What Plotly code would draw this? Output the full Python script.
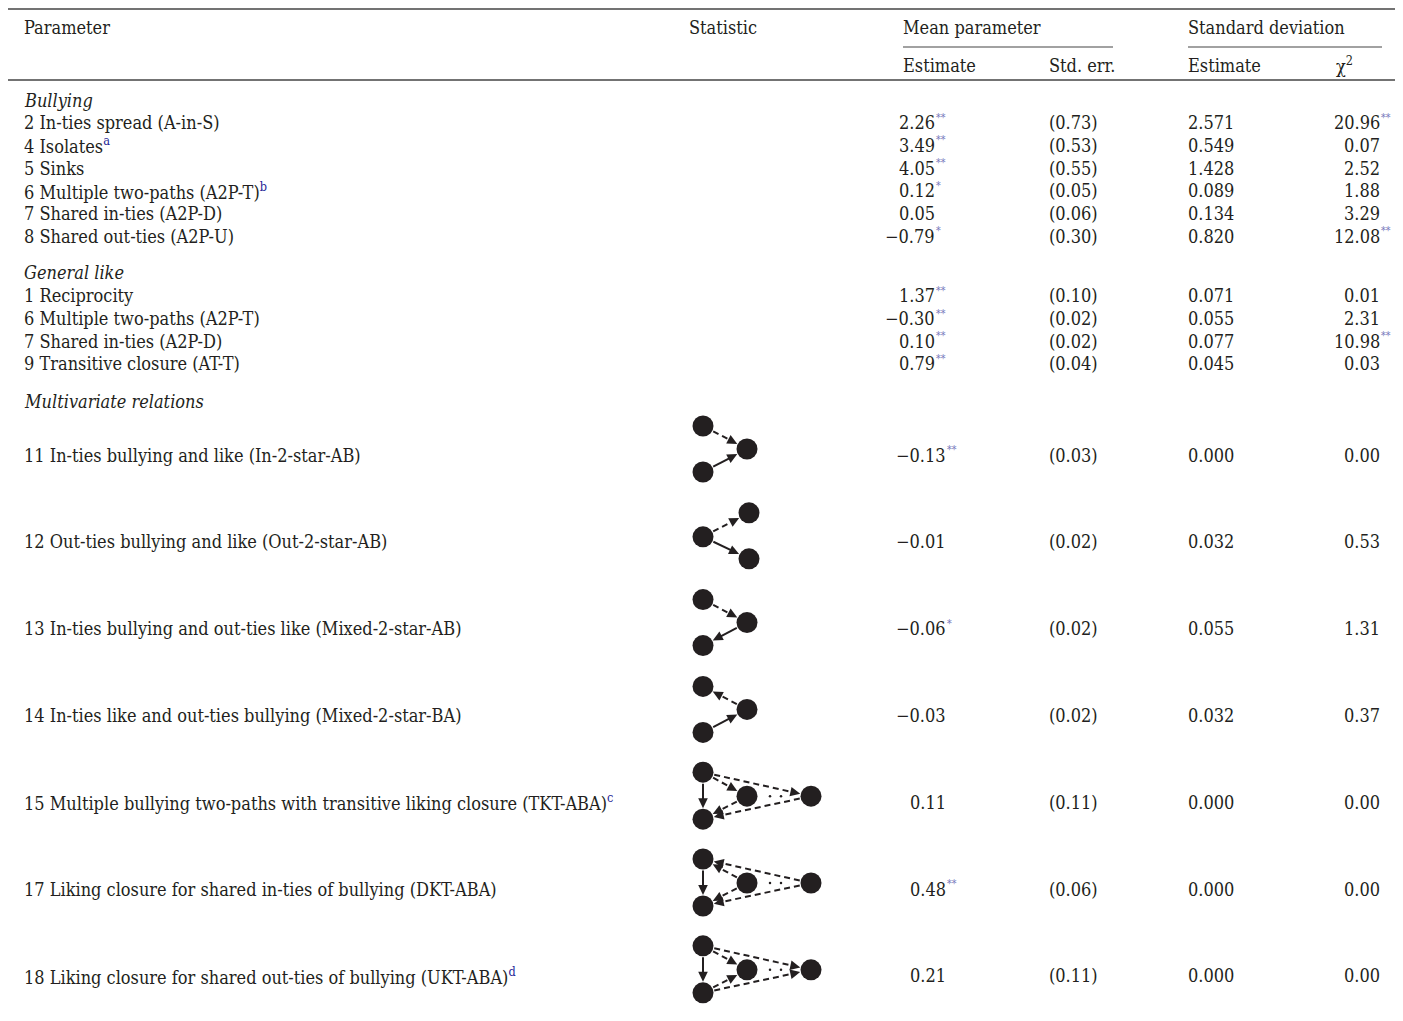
import plotly.graph_objects as go
import numpy as np

# ---- table data ----
sections = ["Bullying", "General like", "Multivariate relations"]

row_section = [0, 0, 0, 0, 0, 0,
               1, 1, 1, 1,
               2, 2, 2, 2, 2, 2, 2]

param_labels = [
    "2 In-ties spread (A-in-S)",
    "4 Isolates",
    "5 Sinks",
    "6 Multiple two-paths (A2P-T)",
    "7 Shared in-ties (A2P-D)",
    "8 Shared out-ties (A2P-U)",
    "1 Reciprocity",
    "6 Multiple two-paths (A2P-T)",
    "7 Shared in-ties (A2P-D)",
    "9 Transitive closure (AT-T)",
    "11 In-ties bullying and like (In-2-star-AB)",
    "12 Out-ties bullying and like (Out-2-star-AB)",
    "13 In-ties bullying and out-ties like (Mixed-2-star-AB)",
    "14 In-ties like and out-ties bullying (Mixed-2-star-BA)",
    "15 Multiple bullying two-paths with transitive liking closure (TKT-ABA)",
    "17 Liking closure for shared in-ties of bullying (DKT-ABA)",
    "18 Liking closure for shared out-ties of bullying (UKT-ABA)",
]
footnotes = ["", "a", "", "b", "", "", "", "", "", "", "", "", "", "", "c", "", "d"]

mean_est = ["2.26", "3.49", "4.05", "0.12", "0.05", "\u22120.79",
            "1.37", "\u22120.30", "0.10", "0.79",
            "\u22120.13", "\u22120.01", "\u22120.06", "\u22120.03", "0.11", "0.48", "0.21"]
mean_sig = ["**", "**", "**", "*", "", "*",
            "**", "**", "**", "**",
            "**", "", "*", "", "", "**", ""]
std_err = ["0.73", "0.53", "0.55", "0.05", "0.06", "0.30",
           "0.10", "0.02", "0.02", "0.04",
           "0.03", "0.02", "0.02", "0.02", "0.11", "0.06", "0.11"]
sd_est = ["2.571", "0.549", "1.428", "0.089", "0.134", "0.820",
          "0.071", "0.055", "0.077", "0.045",
          "0.000", "0.032", "0.055", "0.032", "0.000", "0.000", "0.000"]
chi2 = ["20.96", "0.07", "2.52", "1.88", "3.29", "12.08",
        "0.01", "2.31", "10.98", "0.03",
        "0.00", "0.53", "1.31", "0.37", "0.00", "0.00", "0.00"]
chi2_sig = ["**", "", "", "", "", "**",
            "", "", "**", "",
            "", "", "", "", "", "", ""]

# statistic diagrams: which shape and edges (from, to, style)
diagram = [None] * 10 + ["v3", "fork", "v3", "v3", "k4", "k4", "k4"]
diagram_edges = [
    [(0, 1, "dash"), (2, 1, "solid")],
    [(0, 1, "dash"), (0, 2, "solid")],
    [(0, 1, "dash"), (1, 2, "solid")],
    [(1, 0, "dash"), (2, 1, "solid")],
    [(0, 3, "solid"), (0, 1, "dash"), (0, 2, "dash"), (1, 3, "dash"), (2, 3, "dash")],
    [(0, 3, "solid"), (1, 0, "dash"), (2, 0, "dash"), (1, 3, "dash"), (2, 3, "dash")],
    [(0, 3, "solid"), (0, 1, "dash"), (0, 2, "dash"), (3, 1, "dash"), (3, 2, "dash")],
]

# ---- layout constants (pixels, page coordinates) ----
W, H = 1403, 1021
PAD = 8  # default body margin of the html page
FONT = "DejaVu Serif Condensed, Liberation Serif, serif"
INK = "#231f20"
STAR = "#7777bb"
FOOT = "#1e1e96"
FS = 18

node_layout = {
    "v3": [(0, -23), (44, 0), (0, 23)],
    "fork": [(0, 1), (46, -23), (46, 23)],
    "k4": [(0, -24), (44, 0), (108, 0), (0, 23)],
}

section_y = [100, 272, 401]
row_y = []
counters = {0: 0, 1: 0, 2: 0}
for s in row_section:
    k = counters[s]
    if s == 0:
        row_y.append(section_y[0] + 22.7 * (k + 1))
    elif s == 1:
        row_y.append(section_y[1] + 23.8 + 22.7 * k)
    else:
        row_y.append(455 + 86.8 * k)
    counters[s] += 1

annotations = []


def txt(x, y, s, anchor="left", size=FS, color=INK):
    # annotation boxes carry ~2px of padding; compensate so x is the ink edge
    x = x - 2 if anchor == "left" else x + 2
    annotations.append(dict(
        x=x, y=y, xref="x", yref="y", text=s, showarrow=False,
        xanchor=anchor, yanchor="middle",
        font=dict(family=FONT, size=size, color=color)
    ))


# header
txt(24, 27, "Parameter")
txt(689, 27, "Statistic")
txt(903, 27, "Mean parameter")
txt(1188, 27, "Standard deviation")
txt(903, 65, "Estimate")
txt(1049, 65, "Std. err.")
txt(1188, 65, "Estimate")
txt(1336, 65, "\u03c7<sup>2</sup>")

for s, y in zip(sections, section_y):
    txt(24, y, "<i>%s</i>" % s)

for i, y in enumerate(row_y):
    lab = param_labels[i]
    if footnotes[i]:
        lab += "<sup><span style='color:%s'>%s</span></sup>" % (FOOT, footnotes[i])
    txt(24, y, lab)
    xr = 946 if row_section[i] == 2 else 935
    txt(xr, y, mean_est[i], anchor="right")
    if mean_sig[i]:
        txt(xr + 0.5, y - 6, mean_sig[i], size=10.5, color=STAR)
    txt(1049, y, "(%s)" % std_err[i])
    txt(1188, y, sd_est[i])
    txt(1380, y, chi2[i], anchor="right")
    if chi2_sig[i]:
        txt(1380.5, y - 6, chi2_sig[i], size=10.5, color=STAR)

shapes = [
    dict(type="line", x0=8, x1=1397, y0=9, y1=9, line=dict(color="#444", width=1.3)),
    dict(type="line", x0=8, x1=1397, y0=80, y1=80, line=dict(color="#444", width=1.3)),
    dict(type="line", x0=903, x1=1113, y0=47, y1=47, line=dict(color="#444", width=1.2)),
    dict(type="line", x0=1188, x1=1382, y0=47, y1=47, line=dict(color="#444", width=1.2)),
]

fig = go.Figure()

R = 10.5
HEAD_L, HEAD_W = 10, 4.8
node_x, node_y = [], []
dash_x, dash_y, solid_x, solid_y = [], [], [], []
dot_x, dot_y = [], []
edge_iter = iter(diagram_edges)
for i, kind in enumerate(diagram):
    if kind is None:
        continue
    edges = next(edge_iter)
    cx, cy = 703, row_y[i] - 6
    pts = [(cx + dx, cy + dy) for dx, dy in node_layout[kind]]
    for px, py in pts:
        node_x.append(px)
        node_y.append(py)
    for a, b, style in edges:
        p = np.array(pts[a], float)
        q = np.array(pts[b], float)
        u = (q - p) / np.linalg.norm(q - p)
        nrm = np.array([-u[1], u[0]])
        start = p + u * (R + 1)
        tip = q - u * (R + 0.5)
        base = tip - u * HEAD_L
        xs, ys = (dash_x, dash_y) if style == "dash" else (solid_x, solid_y)
        xs += [start[0], base[0] + u[0], None]
        ys += [start[1], base[1] + u[1], None]
        c1 = base + nrm * HEAD_W
        c2 = base - nrm * HEAD_W
        shapes.append(dict(
            type="path", xref="x", yref="y",
            path="M %.1f %.1f L %.1f %.1f L %.1f %.1f Z" % (tip[0], tip[1], c1[0], c1[1], c2[0], c2[1]),
            fillcolor=INK, line=dict(width=0)
        ))
    if kind == "k4":
        dot_x += [cx + 67, cx + 78]
        dot_y += [cy, cy]

fig.add_trace(go.Scatter(x=dash_x, y=dash_y, mode="lines",
                         line=dict(color=INK, width=2, dash="6px,4px"),
                         hoverinfo="skip", showlegend=False))
fig.add_trace(go.Scatter(x=solid_x, y=solid_y, mode="lines",
                         line=dict(color=INK, width=2),
                         hoverinfo="skip", showlegend=False))
fig.add_trace(go.Scatter(x=dot_x, y=dot_y, mode="markers",
                         marker=dict(color=INK, size=2.5),
                         hoverinfo="skip", showlegend=False))
fig.add_trace(go.Scatter(x=node_x, y=node_y, mode="markers",
                         marker=dict(color=INK, size=21, line=dict(width=0)),
                         hoverinfo="skip", showlegend=False))

fig.update_layout(
    width=W - PAD, height=H - PAD, autosize=False,
    margin=dict(l=0, r=0, t=0, b=0),
    paper_bgcolor="white", plot_bgcolor="white",
    xaxis=dict(range=[PAD, W], visible=False, fixedrange=True),
    yaxis=dict(range=[H, PAD], visible=False, fixedrange=True),
    annotations=annotations,
    shapes=shapes,
    showlegend=False,
)

fig.write_html("out.html")
